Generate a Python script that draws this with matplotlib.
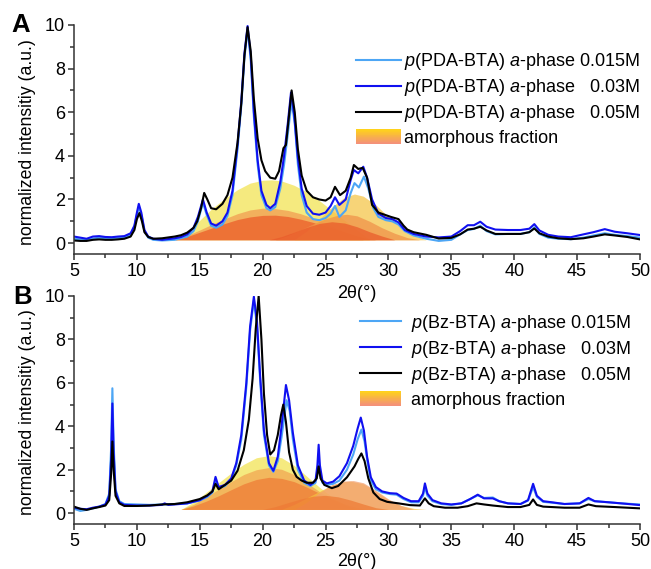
import numpy as np
import matplotlib
matplotlib.use("Agg")
import matplotlib.pyplot as plt
from matplotlib.ticker import MultipleLocator
from matplotlib.legend_handler import HandlerBase
from matplotlib.patches import Rectangle, Patch
from matplotlib.lines import Line2D
from matplotlib.colors import LinearSegmentedColormap

plt.rcParams['font.family'] = ['Liberation Sans', 'DejaVu Sans']
plt.rcParams['mathtext.fontset'] = 'custom'
plt.rcParams['mathtext.rm'] = 'Liberation Sans'
plt.rcParams['mathtext.it'] = 'Liberation Sans:italic'
plt.rcParams['font.size'] = 13

# ─────────────────────────────────────────────
# DATA  (2θ, intensity)
# ─────────────────────────────────────────────

# panel A : p(PDA-BTA)
pda_015 = [(5,0.2),(6,0.15),(7,0.25),(8,0.2),(9,0.25),(9.5,0.4),(9.8,0.75),(10.0,1.3),(10.15,1.65),(10.35,1.3),
           (10.6,0.55),(10.9,0.25),(11.3,0.15),(12,0.12),(13,0.15),(14,0.3),(14.5,0.55),(14.85,1.0),(15.25,1.85),
           (15.55,1.3),(15.9,0.8),(16.3,0.7),(16.8,0.85),(17.2,1.25),(17.6,2.2),(18.0,4.3),(18.3,6.3),(18.55,8.5),
           (18.8,9.8),(19.05,8.4),(19.3,5.8),(19.6,3.6),(19.9,2.2),(20.3,1.6),(20.6,1.5),(21.0,1.65),(21.4,2.5),
           (21.7,3.6),(22.0,5.0),(22.3,6.5),(22.55,5.5),(22.8,3.6),(23.1,2.2),(23.5,1.4),(24.0,1.1),(24.5,1.05),
           (25.0,1.15),(25.4,1.35),(25.75,1.7),(26.1,1.2),(26.6,1.5),(27.0,2.3),(27.3,2.75),(27.65,2.55),(28.05,3.05),
           (28.4,2.5),(28.8,1.6),(29.2,1.2),(29.8,1.05),(30.3,1.0),(30.8,0.85),(31.3,0.55),(32,0.35),(33,0.2),
           (34,0.1),(35,0.15),(35.7,0.4),(36.3,0.6),(36.8,0.65),(37.3,0.8),(37.8,0.55),(38.5,0.4),(39.5,0.42),
           (40.5,0.42),(41.2,0.5),(41.6,0.72),(42.0,0.42),(42.7,0.25),(43.5,0.2),(44.5,0.18),(45.5,0.25),(46.3,0.35),
           (47.2,0.45),(48,0.38),(49,0.32),(50,0.25)]

pda_03 = [(5,0.3),(5.5,0.25),(6,0.2),(6.5,0.3),(7,0.32),(7.5,0.28),(8,0.27),(8.5,0.3),(9,0.32),(9.5,0.45),(9.8,0.8),
          (10.0,1.4),(10.15,1.8),(10.35,1.4),(10.6,0.6),(10.9,0.3),(11.3,0.2),(12,0.15),(13,0.22),(13.5,0.28),
          (14,0.4),(14.5,0.7),(14.85,1.2),(15.25,2.0),(15.55,1.4),(15.9,0.9),(16.3,0.8),(16.8,1.0),(17.2,1.4),
          (17.6,2.4),(18.0,4.5),(18.3,6.5),(18.55,8.7),(18.8,9.95),(19.05,8.6),(19.3,6.0),(19.6,3.8),(19.9,2.4),
          (20.3,1.75),(20.6,1.6),(21.0,1.8),(21.4,2.8),(21.7,4.0),(22.0,5.5),(22.25,6.9),(22.5,5.9),(22.8,3.9),
          (23.1,2.5),(23.5,1.7),(24.0,1.35),(24.5,1.3),(25.0,1.4),(25.4,1.7),(25.75,2.1),(26.1,1.75),(26.6,2.0),
          (27.0,2.9),(27.25,3.35),(27.6,3.2),(28.0,3.5),(28.3,3.0),(28.7,2.0),(29.2,1.35),(29.8,1.15),(30.3,1.1),
          (30.8,0.95),(31.3,0.6),(32,0.42),(33,0.3),(34,0.26),(35,0.3),(35.7,0.55),(36.3,0.82),(36.8,0.82),
          (37.3,0.98),(37.8,0.75),(38.5,0.62),(39.5,0.6),(40.5,0.6),(41.2,0.66),(41.6,0.87),(42.0,0.58),(42.7,0.38),
          (43.5,0.3),(44.5,0.27),(45.5,0.4),(46.3,0.5),(47.2,0.64),(48,0.52),(49,0.45),(50,0.37)]

pda_05 = [(5,0.12),(5.5,0.1),(6,0.1),(6.5,0.15),(7,0.17),(7.5,0.15),(8,0.15),(8.5,0.17),(9,0.2),(9.5,0.3),(9.8,0.6),
          (10.0,1.1),(10.2,1.38),(10.4,1.0),(10.6,0.5),(10.9,0.28),(11.3,0.2),(12,0.22),(13,0.3),(13.5,0.36),
          (14,0.48),(14.5,0.7),(14.8,1.0),(15.1,1.6),(15.35,2.3),(15.6,2.0),(15.9,1.6),(16.3,1.55),(16.8,1.8),
          (17.2,2.2),(17.6,3.0),(18.0,4.6),(18.3,6.4),(18.55,8.6),(18.8,9.9),(19.05,8.8),(19.3,6.6),(19.6,4.8),
          (19.9,3.8),(20.2,3.3),(20.6,3.0),(21.0,2.95),(21.3,3.3),(21.5,3.9),(21.65,4.35),(21.85,4.5),(22.05,5.6),
          (22.3,7.0),(22.55,6.0),(22.8,4.3),(23.1,3.1),(23.5,2.4),(24.0,2.1),(24.5,2.0),(25.0,1.95),(25.4,2.1),
          (25.75,2.58),(26.15,2.2),(26.6,2.4),(27.0,3.0),(27.25,3.58),(27.6,3.4),(27.95,3.45),(28.3,3.0),(28.7,1.75),
          (29.2,1.4),(29.7,1.3),(30.2,1.2),(30.8,1.1),(31.2,0.8),(31.5,0.62),(32,0.5),(33,0.38),(34,0.21),(35,0.24),
          (35.7,0.4),(36.3,0.62),(36.8,0.66),(37.3,0.75),(37.8,0.58),(38.5,0.42),(39.5,0.42),(40.5,0.42),
          (41.2,0.5),(41.6,0.67),(42.0,0.45),(42.7,0.3),(43.5,0.22),(44.5,0.18),(45.5,0.22),(46.3,0.3),(47.2,0.4),
          (48,0.35),(49,0.28),(50,0.17)]

# amorphous humps, panel A
pda_hump_y1 = [(13.0,0.15),(14,0.5),(15,1.05),(16,1.6),(17,2.05),(18,2.45),(19,2.75),(20,2.88),(20.7,2.9),(21.5,2.85),
               (22.5,2.65),(23.5,2.35),(24.5,1.95),(25.5,1.5),(26.5,1.05),(27.5,0.6),(28.5,0.15)]
pda_hump_o1 = [(13,0.15),(14,0.35),(15,0.6),(16,0.87),(17,1.12),(18,1.35),(19,1.52),(20,1.6),(21,1.58),(22,1.5),
               (23,1.35),(24,1.15),(25,0.9),(26,0.65),(27,0.4),(28,0.15)]
pda_hump_r1 = [(13,0.15),(14,0.3),(15,0.5),(16,0.7),(17,0.9),(18,1.08),(19,1.2),(20,1.27),(21,1.28),(22,1.22),
               (23,1.1),(24,0.95),(25,0.78),(26,0.6),(27,0.42),(28,0.25),(29,0.15)]
pda_hump_y2 = [(22.5,0.15),(23.5,0.55),(24.5,1.1),(25.5,1.65),(26.5,2.1),(27.3,2.25),(28,2.15),(29,1.75),(30,1.2),
               (31,0.7),(32,0.35),(33,0.15)]
pda_hump_o2 = [(21,0.15),(22,0.35),(23,0.6),(24,0.88),(25,1.12),(26,1.28),(26.7,1.32),(27.5,1.25),(28.5,1.0),
               (29.5,0.7),(30.5,0.45),(31.5,0.25),(32.5,0.15)]
pda_hump_r2 = [(20.5,0.15),(21.5,0.3),(22.5,0.5),(23.5,0.72),(24.5,0.9),(25.5,0.98),(26.5,0.92),(27.5,0.75),
               (28.5,0.52),(29.5,0.32),(30.5,0.15)]

# panel B : p(Bz-BTA)
bz_015 = [(5,0.2),(5.5,0.1),(6,0.15),(6.5,0.22),(7,0.3),(7.5,0.42),(7.8,0.9),(7.95,3.0),(8.05,5.75),(8.15,3.2),
          (8.3,1.1),(8.6,0.55),(9,0.42),(10,0.4),(11,0.38),(12,0.4),(13,0.42),(14,0.45),(15,0.58),(15.6,0.75),
          (16.0,0.95),(16.25,1.5),(16.5,1.15),(17,1.25),(17.5,1.55),(17.9,2.2),(18.3,3.4),(18.7,5.8),(19.0,8.4),
          (19.3,9.8),(19.55,8.6),(19.8,6.1),(20.1,3.6),(20.5,2.2),(20.85,1.9),(21.2,2.4),(21.5,3.5),(21.9,5.2),
          (22.15,4.7),(22.4,3.4),(22.8,2.0),(23.3,1.4),(23.8,1.25),(24.2,1.4),(24.35,1.9),(24.45,2.5),(24.55,1.9),
          (24.75,1.4),(25.1,1.3),(25.6,1.35),(26.1,1.5),(26.7,2.0),(27.2,2.7),(27.55,3.4),(27.85,3.85),(28.1,3.3),
          (28.35,2.3),(28.6,1.5),(29.0,1.1),(29.5,0.95),(30.1,0.88),(30.65,0.85),(31.2,0.65),(31.8,0.5),(32.4,0.5),
          (32.75,0.8),(32.9,1.2),(33.1,0.8),(33.5,0.55),(34.2,0.42),(35,0.38),(35.8,0.45),(36.5,0.65),(37.1,0.82),
          (37.6,0.7),(38.3,0.72),(38.8,0.55),(39.5,0.45),(40.5,0.42),(41.1,0.58),(41.5,1.2),(41.8,0.75),(42.3,0.52),
          (43,0.48),(44,0.42),(45.2,0.45),(45.9,0.65),(46.4,0.55),(47.5,0.5),(48.5,0.45),(50,0.4)]

bz_03 = [(5,0.25),(5.5,0.2),(6,0.18),(6.5,0.25),(7,0.3),(7.5,0.4),(7.8,0.8),(7.95,2.5),(8.05,5.05),(8.15,2.8),
         (8.3,1.0),(8.6,0.5),(9,0.38),(10,0.35),(11,0.35),(12,0.38),(12.2,0.45),(12.5,0.38),(13,0.4),(14,0.45),
         (15,0.6),(15.6,0.8),(16.0,1.0),(16.25,1.67),(16.5,1.2),(17,1.3),(17.5,1.6),(17.9,2.3),(18.3,3.6),(18.7,6.0),
         (19.0,8.6),(19.3,9.97),(19.55,8.8),(19.8,6.3),(20.1,3.8),(20.5,2.3),(20.85,1.95),(21.2,2.6),(21.5,4.0),
         (21.85,5.9),(22.1,5.2),(22.4,3.7),(22.8,2.2),(23.3,1.5),(23.8,1.3),(24.2,1.5),(24.35,2.2),(24.45,3.15),
         (24.55,2.2),(24.75,1.5),(25.1,1.37),(25.6,1.45),(26.1,1.7),(26.7,2.3),(27.2,3.1),(27.55,3.9),(27.8,4.4),
         (28.05,3.8),(28.3,2.6),(28.6,1.65),(29.0,1.2),(29.5,1.0),(30.1,0.92),(30.65,0.9),(31.2,0.7),(31.8,0.55),
         (32.4,0.55),(32.75,0.9),(32.9,1.37),(33.1,0.9),(33.5,0.6),(34.2,0.45),(35,0.4),(35.8,0.45),(36.5,0.65),
         (37.1,0.85),(37.6,0.68),(38.3,0.68),(38.8,0.55),(39.5,0.45),(40.5,0.42),(41.1,0.6),(41.5,1.35),(41.8,0.8),
         (42.3,0.55),(43,0.5),(44,0.42),(45.2,0.45),(45.9,0.7),(46.4,0.55),(47.5,0.5),(48.5,0.45),(50,0.37)]

bz_05 = [(5,0.3),(5.5,0.2),(6,0.15),(6.5,0.22),(7,0.28),(7.5,0.35),(7.8,0.6),(7.95,1.8),(8.05,3.3),(8.15,2.0),
         (8.3,0.8),(8.6,0.45),(9,0.33),(10,0.33),(11,0.35),(12,0.4),(13,0.42),(14,0.5),(15,0.65),(15.6,0.82),
         (16.0,1.0),(16.25,1.35),(16.5,1.1),(17,1.3),(17.5,1.5),(18,1.95),(18.5,2.9),(18.9,4.3),(19.2,6.2),
         (19.45,8.5),(19.68,10.0),(19.9,8.0),(20.1,5.5),(20.35,3.6),(20.6,2.7),(20.9,2.9),(21.2,3.6),(21.45,4.5),
         (21.64,5.0),(21.85,4.2),(22.1,2.8),(22.4,2.0),(22.7,1.67),(23.1,1.5),(23.5,1.4),(24.0,1.4),(24.3,1.6),
         (24.45,2.15),(24.6,1.6),(24.9,1.3),(25.5,1.15),(26,1.25),(26.7,1.65),(27.3,2.15),(27.6,2.5),(27.85,2.75),
         (28.1,2.4),(28.4,1.6),(28.8,0.95),(29.3,0.65),(29.9,0.52),(30.8,0.45),(31.7,0.37),(32.5,0.35),(32.9,0.68),
         (33.2,0.45),(33.6,0.32),(34.5,0.25),(35.5,0.25),(36.3,0.32),(37,0.45),(37.6,0.4),(38.3,0.35),(39.5,0.28),
         (40.5,0.28),(41.2,0.38),(41.5,0.63),(41.8,0.38),(42.3,0.3),(43,0.28),(44,0.25),(45.2,0.25),(45.9,0.4),
         (46.5,0.32),(48,0.28),(50,0.22)]

# amorphous humps, panel B
bz_hump_y1 = [(13.5,0.17),(14.5,0.5),(15.5,0.95),(16.5,1.4),(17.5,1.85),(18.5,2.25),(19.5,2.55),(20.5,2.65),
              (21.5,2.55),(22.5,2.2),(23.5,1.7),(24.5,1.2),(25.5,0.75),(26.5,0.4),(27.5,0.17)]
bz_hump_o1 = [(13.5,0.17),(14.5,0.4),(15.5,0.75),(16.5,1.1),(17.5,1.45),(18.5,1.78),(19.5,2.0),(20.5,2.1),
              (21.5,2.02),(22.5,1.78),(23.5,1.4),(24.5,1.0),(25.5,0.65),(26.5,0.38),(27.5,0.17)]
bz_hump_r1 = [(13.5,0.17),(14.5,0.33),(15.5,0.55),(16.5,0.8),(17.5,1.08),(18.5,1.35),(19.5,1.55),(20.5,1.65),
              (21.5,1.6),(22.5,1.45),(23.5,1.2),(24.5,0.92),(25.5,0.65),(26.5,0.42),(27.5,0.25),(28.5,0.17)]
bz_hump_y2 = [(21.5,0.17),(22.5,0.4),(23.5,0.7),(24.5,1.0),(25.5,1.3),(26.5,1.45),(27,1.47),(28,1.35),(29,1.0),
              (30,0.62),(31,0.35),(32,0.22),(33,0.17)]
bz_hump_o2 = [(22.5,0.17),(23.5,0.5),(24.5,0.95),(25.5,1.3),(26.5,1.48),(27.2,1.5),(28,1.4),(29,1.05),(30,0.65),
              (31,0.35),(32,0.17)]
bz_hump_r2 = [(20,0.17),(21,0.3),(22,0.48),(23,0.65),(24,0.78),(25,0.82),(26,0.75),(27,0.6),(28,0.42),(29,0.25),
              (30,0.17)]

LINE_COLORS = ["#4da6f5", "#1010f0", "#000000"]


# ─────────────────────────────────────────────
# HELPERS
# ─────────────────────────────────────────────

class GradientHandler(HandlerBase):
    # legend swatch that fades from yellow (top) to salmon (bottom)
    def create_artists(self, legend, orig_handle, xdescent, ydescent,
                       width, height, fontsize, trans):
        cmap = LinearSegmentedColormap.from_list("amo", ["#f4917a", "#f7b04a", "#ffd21c"])
        n = 20
        out = []
        for i in range(n):
            r = Rectangle((-xdescent, -ydescent + height * i / n), width, height / n + 0.3,
                          facecolor=cmap(i / (n - 1)), edgecolor="none", transform=trans)
            out.append(r)
        return out


def draw_panel(ax, series, humps, hump_colors, labels, leg_xy, handlelen, textpad):
    ax.patch.set_visible(False)   # so the label of the panel above stays readable
    for s, c in zip(series, LINE_COLORS):
        x, y = np.array(s).T
        ax.plot(x, y, color=c, lw=1.5, solid_joinstyle="round")
    for h, c in zip(humps, hump_colors):
        x, y = np.array(h).T
        ax.fill_between(x, y[0], y, color=c, alpha=0.72, lw=0)

    ax.set_xlim(5, 50)
    ax.set_ylim(-0.5, 10)
    ax.xaxis.set_major_locator(MultipleLocator(5))
    ax.xaxis.set_minor_locator(MultipleLocator(2.5))
    ax.yaxis.set_major_locator(MultipleLocator(2))
    ax.yaxis.set_minor_locator(MultipleLocator(1))
    for sp in ["top", "right"]:
        ax.spines[sp].set_visible(False)
    for sp in ["left", "bottom"]:
        ax.spines[sp].set_linewidth(1.1)
        ax.spines[sp].set_color("#333333")
    ax.tick_params(which="major", direction="out", length=4.5, width=1.1, color="#333333", labelsize=13, pad=2)
    ax.tick_params(which="minor", direction="out", length=3, width=1.1, color="#333333")

    ax.set_ylabel("normalized intensitiy (a.u.)", fontsize=12.7)
    ax.yaxis.set_label_coords(-0.068, 0.49)
    ax.set_xlabel("2θ(°)", fontsize=13)

    handles = [Line2D([], [], color=c, lw=1.5) for c in LINE_COLORS] + [Patch()]
    ax.legend(handles, labels, loc="upper left", bbox_to_anchor=leg_xy, frameon=False,
              fontsize=13, handlelength=handlelen, handletextpad=textpad, labelspacing=0.28,
              borderpad=0, borderaxespad=0, handleheight=0.85,
              handler_map={Patch: GradientHandler()})


# ─────────────────────────────────────────────
# FIGURE
# ─────────────────────────────────────────────
fig = plt.figure(figsize=(6.51, 5.69), dpi=100)
ax_a = fig.add_axes([0.1137, 0.5536, 0.8694, 0.4025])
ax_b = fig.add_axes([0.1137, 0.0791, 0.8694, 0.4007])

labels_a = [r"$\mathit{p}$(PDA-BTA) $\mathit{a}$-phase 0.015M",
            r"$\mathit{p}$(PDA-BTA) $\mathit{a}$-phase   0.03M",
            r"$\mathit{p}$(PDA-BTA) $\mathit{a}$-phase   0.05M",
            "amorphous fraction"]
labels_b = [r"$\mathit{p}$(Bz-BTA) $\mathit{a}$-phase 0.015M",
            r"$\mathit{p}$(Bz-BTA) $\mathit{a}$-phase   0.03M",
            r"$\mathit{p}$(Bz-BTA) $\mathit{a}$-phase   0.05M",
            "amorphous fraction"]

draw_panel(ax_a, [pda_015, pda_03, pda_05],
           [pda_hump_y1, pda_hump_o1, pda_hump_r1, pda_hump_y2, pda_hump_o2, pda_hump_r2],
           ["#f2e24e", "#f29a50", "#ec5a28", "#f5c444", "#f09048", "#ea5a2a"],
           labels_a, (0.498, 0.885), 2.5, 0.15)
ax_a.xaxis.set_label_coords(0.5, -0.135)

draw_panel(ax_b, [bz_015, bz_03, bz_05],
           [bz_hump_y1, bz_hump_o1, bz_hump_r1, bz_hump_y2, bz_hump_o2, bz_hump_r2],
           ["#f2e24e", "#f2a450", "#ef7a35", "#f5c040", "#f2a070", "#ee7a35"],
           labels_b, (0.505, 0.925), 2.3, 0.55)
ax_b.xaxis.set_label_coords(0.5, -0.127)

fig.text(0.018, 0.943, "A", fontsize=18.5, fontweight="bold")
fig.text(0.021, 0.466, "B", fontsize=18.5, fontweight="bold")

fig.savefig("out.png", dpi=100)
